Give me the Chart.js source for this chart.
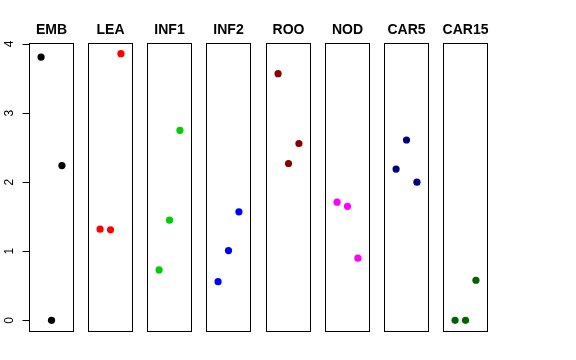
<!DOCTYPE html>
<html>
<head>
<meta charset="utf-8">
<script src="https://cdn.jsdelivr.net/npm/chart.js@4"></script>
<style>
  html, body { margin: 0; padding: 0; background: #fff; }
  #wrap { position: relative; width: 576px; height: 360px; overflow: hidden; }
  #wrap canvas { position: absolute; top: 0; }
</style>
</head>
<body>
<div id="wrap"></div>
<script>
// panel names and colours
const panelNames = ['EMB', 'LEA', 'INF1', 'INF2', 'ROO', 'NOD', 'CAR5', 'CAR15'];
const panelColors = ['#000000', '#FF0000', '#00CD00', '#0000FF', '#8B0000', '#FF00FF', '#000080', '#006400'];

// three values per panel, plotted at x = 1, 2, 3
const xPositions = [1, 2, 3];
const embValues = [3.81, 0.00, 2.24];
const leaValues = [1.32, 1.31, 3.86];
const inf1Values = [0.73, 1.45, 2.75];
const inf2Values = [0.56, 1.01, 1.57];
const rooValues = [3.57, 2.27, 2.56];
const nodValues = [1.71, 1.65, 0.90];
const car5Values = [2.19, 2.61, 2.00];
const car15Values = [0.00, 0.00, 0.58];

const yTicks = [0, 1, 2, 3, 4];

const allValues = [embValues, leaValues, inf1Values, inf2Values, rooValues, nodValues, car5Values, car15Values];

// R style 4% range extension
const flat = allValues.flat();
const yLo = Math.min(...flat), yHi = Math.max(...flat);
const yPad = (yHi - yLo) * 0.04;
const xLo = 0, xHi = 4;
const xPad = (xHi - xLo) * 0.04;

// layout
const firstLeft = 29;
const panelStep = 59.14;
const panelWidth = 44.5;
const panelTop = 43;
const panelBottom = 331;
const sideGap = 7;

const boxPlugin = {
    id: 'box',
    afterDraw(chart, args, opts) {
        const { ctx, chartArea } = chart;
        ctx.save();
        ctx.strokeStyle = '#000';
        ctx.lineWidth = 1;
        ctx.strokeRect(Math.round(chartArea.left) + 0.5, Math.round(chartArea.top) + 0.5,
            Math.round(chartArea.right - chartArea.left) - 1, Math.round(chartArea.bottom - chartArea.top));
        // title
        ctx.fillStyle = '#000';
        ctx.font = 'bold 14px "Liberation Sans", Arial, sans-serif';
        ctx.textAlign = 'center';
        ctx.textBaseline = 'alphabetic';
        ctx.fillText(opts.title, (chartArea.left + chartArea.right) / 2, 34);

        // y axis on the first panel only
        if (opts.showAxis) {
            const y = chart.scales.y;
            const x0 = Math.round(chartArea.left) + 0.5;
            ctx.beginPath();
            ctx.moveTo(x0, Math.round(y.getPixelForValue(yTicks[0])) + 0.5);
            ctx.lineTo(x0, Math.round(y.getPixelForValue(yTicks[yTicks.length - 1])) + 0.5);
            yTicks.forEach(t => {
                const py = Math.round(y.getPixelForValue(t)) + 0.5;
                ctx.moveTo(x0, py);
                ctx.lineTo(x0 - 7, py);
            });
            ctx.stroke();
            ctx.font = '12px "Liberation Sans", Arial, sans-serif';
            ctx.textBaseline = 'middle';
            yTicks.forEach(t => {
                const py = y.getPixelForValue(t);
                ctx.save();
                ctx.translate(10, py);
                ctx.rotate(-Math.PI / 2);
                ctx.fillText(String(t), 0, 0);
                ctx.restore();
            });
        }
        ctx.restore();
    }
};

const wrap = document.getElementById('wrap');

panelNames.forEach((name, i) => {
    const panelLeft = firstLeft + i * panelStep;
    const canvasLeft = i === 0 ? 0 : Math.round(panelLeft - sideGap);
    const leftPad = Math.round(panelLeft) - canvasLeft;
    const canvasWidth = leftPad + Math.round(panelWidth) + sideGap;

    const canvas = document.createElement('canvas');
    canvas.width = canvasWidth;
    canvas.height = 360;
    canvas.style.left = canvasLeft + 'px';
    canvas.style.width = canvasWidth + 'px';
    canvas.style.height = '360px';
    wrap.appendChild(canvas);

    const points = xPositions.map((x, k) => ({ x: x, y: allValues[i][k] }));

    new Chart(canvas.getContext('2d'), {
        type: 'scatter',
        data: {
            datasets: [{
                data: points,
                backgroundColor: panelColors[i],
                borderWidth: 0,
                pointRadius: 3.6,
                pointHoverRadius: 3.6
            }]
        },
        options: {
            responsive: false,
            animation: false,
            events: [],
            layout: {
                padding: { left: leftPad, right: sideGap, top: panelTop, bottom: 360 - panelBottom }
            },
            plugins: {
                legend: { display: false },
                tooltip: { enabled: false },
                box: { title: name, showAxis: i === 0 }
            },
            scales: {
                x: { type: 'linear', min: xLo - xPad, max: xHi + xPad, display: false },
                y: { type: 'linear', min: yLo - yPad, max: yHi + yPad, display: false }
            }
        },
        plugins: [boxPlugin]
    });
});
</script>
</body>
</html>
